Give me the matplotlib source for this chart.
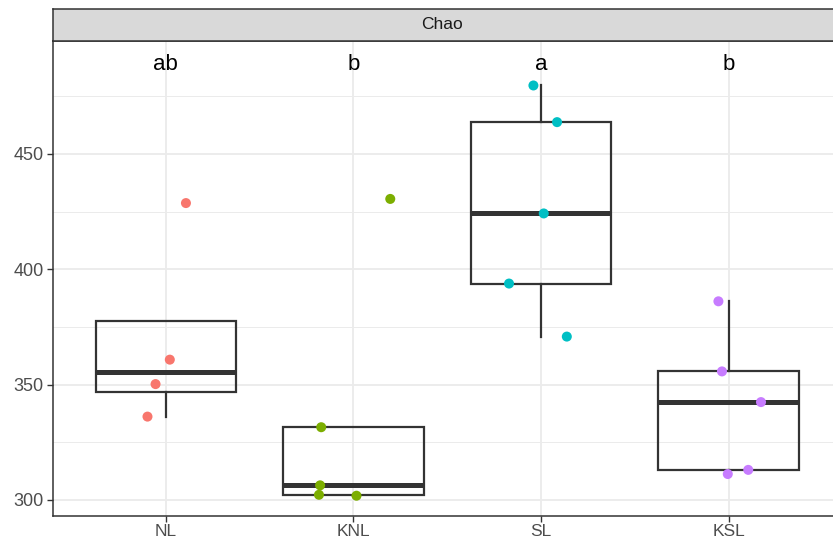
import matplotlib
matplotlib.use("Agg")
import matplotlib.pyplot as plt
import numpy as np

plt.rcParams["font.family"] = ["Liberation Sans", "DejaVu Sans"]

groups = ["NL", "KNL", "SL", "KSL"]
colors = ["#F8766D", "#7CAE00", "#00BFC4", "#C77CFF"]
letters = ["ab", "b", "a", "b"]
strip_title = "Chao"

values_NL = [428.7, 360.8, 350.2, 336.1]
values_KNL = [430.5, 331.5, 306.3, 302.2, 301.8]
values_SL = [479.7, 463.8, 424.2, 393.8, 370.8]
values_KSL = [386.1, 355.7, 342.4, 313.0, 311.2]

jitter_NL = [0.107, 0.021, -0.055, -0.098]
jitter_KNL = [0.196, -0.172, -0.178, -0.184, 0.016]
jitter_SL = [-0.041, 0.085, 0.014, -0.171, 0.137]
jitter_KSL = [-0.055, -0.036, 0.172, 0.104, -0.005]

yticks = [300, 350, 400, 450]
letter_y = 488.7

values = [values_NL, values_KNL, values_SL, values_KSL]
jitters = [jitter_NL, jitter_KNL, jitter_SL, jitter_KSL]

W, H = 833, 540
fig = plt.figure(figsize=(W / 100, H / 100), dpi=100)
left, right = 53.3, 841.3
top, bottom = 40.5, 516
ax = fig.add_axes([left / W, 1 - bottom / H, (right - left) / W, (bottom - top) / H])
ax.set_xlim(0.4, 4.6)
ax.set_ylim(293.0, 499.2)

# grid
for y in yticks:
    ax.axhline(y, color="#EBEBEB", lw=1.3, zorder=0)
for y in [325, 375, 425, 475]:
    ax.axhline(y, color="#EBEBEB", lw=0.7, zorder=0)
for i in range(1, 5):
    ax.axvline(i, color="#EBEBEB", lw=1.3, zorder=0)

pos = np.arange(1, 5)
bp = ax.boxplot(values, positions=pos, widths=0.75, whis=1.5, showfliers=False,
                patch_artist=True, manage_ticks=False,
                boxprops=dict(facecolor="none", edgecolor="#333333", linewidth=1.6),
                whiskerprops=dict(color="#333333", linewidth=1.6),
                capprops=dict(linewidth=0),
                medianprops=dict(color="#333333", linewidth=3.6, solid_capstyle="butt"))
for el in bp["boxes"] + bp["whiskers"] + bp["medians"]:
    el.set_zorder(2)

for i, (vals, jit, c) in enumerate(zip(values, jitters, colors)):
    xs = [pos[i] + j for j in jit]
    ax.scatter(xs, vals, s=52, color=c, edgecolors="none", zorder=3)
    ax.text(pos[i], letter_y, letters[i], ha="center", va="center",
            fontsize=16, color="black", zorder=4)

ax.set_xticks(pos)
ax.set_xticklabels(groups)
ax.set_yticks(yticks)
ax.tick_params(axis="both", colors="#333333", length=4, width=1.0,
               labelcolor="#4D4D4D")
ax.tick_params(axis="y", labelsize=13, pad=3)
ax.tick_params(axis="x", labelsize=12.5, pad=1.5)
for s in ax.spines.values():
    s.set_color("#333333")
    s.set_linewidth(1.1)

# strip
sax = fig.add_axes([left / W, 1 - top / H, (right - left) / W, (top - 9) / H])
sax.set_facecolor("#D9D9D9")
sax.set_xticks([])
sax.set_yticks([])
for s in sax.spines.values():
    s.set_color("#333333")
    s.set_linewidth(1.1)
sax.text((442 - left) / (right - left), 0.5, strip_title, transform=sax.transAxes,
         ha="center", va="center", fontsize=12.5, color="#1A1A1A")

fig.savefig("out.png", dpi=100)
